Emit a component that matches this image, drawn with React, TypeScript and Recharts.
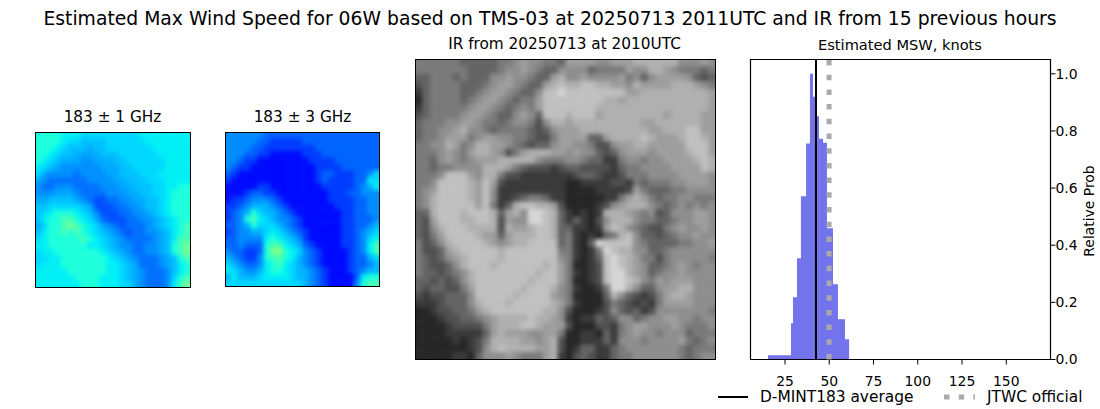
import { Area, ComposedChart, ReferenceArea, ReferenceLine, Scatter, ScatterChart, XAxis, YAxis } from "recharts";

// histogram of estimated MSW: bin edges (knots) and relative prob of the bin starting at each edge
const binEdges = [15.4, 28.4, 29.5, 31.8, 34, 36.9, 39.1, 40.8, 42, 44.2, 46.5, 48.7, 52.1, 54.9, 58.9, 61.2];
const binProb = [0.015, 0.127, 0.218, 0.354, 0.571, 0.756, 1.0, 0.92, 0.851, 0.773, 0.759, 0.459, 0.263, 0.141, 0.071, 0];
const xTicks = [25, 50, 75, 100, 125, 150];
const yTicks = [0, 0.2, 0.4, 0.6, 0.8, 1.0];
const dmintAverage = 42.5;
const jtwcOfficial = 49.9;

const mainTitle = "Estimated Max Wind Speed for 06W based on TMS-03 at 20250713 2011UTC and IR from 15 previous hours";

// brightness levels, one digit per cell
const mw1Grid = [
  "777766655555555566666666",
  "777765544445555556666666",
  "777654443445555555666666",
  "776544333344455555566666",
  "765433322333445555556666",
  "654322222233344555556666",
  "532222122223344455566666",
  "321111112222334445556666",
  "211222111122233444556677",
  "222333211112223344556777",
  "334444321001122334456777",
  "445555543000112234456777",
  "456777654200011223456777",
  "467788765310001122345677",
  "357789876532101112345678",
  "467787876543210112234678",
  "567777787654321111234688",
  "667777776654322112234789",
  "566777777765432112234789",
  "556677777776543211123478",
  "566677777776654311123467",
  "666667777776654321112467",
  "666666777766654321112578",
  "666666677766655321112689",
];

const mw3Grid = [
  "333333222222222222222222",
  "333332211111222222222222",
  "333322111111112222222222",
  "333221100000111222222222",
  "332110000000011112222222",
  "321100000000001111222222",
  "210000000000001221112235",
  "100000000000001211112265",
  "000001100000000111112346",
  "000122110000000011122333",
  "011233321000000011112233",
  "112344432100000001112233",
  "123475443210000000112233",
  "123786543321000000112223",
  "223475554321000000112234",
  "123344565432100000112345",
  "223333676543100000112356",
  "223222788654210000112368",
  "322112799765321000012368",
  "432113788764321000012245",
  "543223678654321000012234",
  "654334677654432100012344",
  "464445666654432100002677",
  "555555555555432100003788",
];

const irGrid = [
  "4444443333344565544366665566677777755565",
  "4444444333345565433555534444655776544434",
  "3344434333556554336755655556453566665323",
  "2344443334566543367877887766576666777654",
  "1344443345665433588988888888667777777776",
  "0344443456654344688888888776777777777776",
  "1344444566543454688888887777777777777776",
  "2344445665433565388878886777777776777766",
  "3444556654434554257767777777776677777766",
  "3445567554344443235666777777777667778866",
  "3445666456655443224666633677778766678876",
  "4455764577665432335665542256677666668886",
  "4445654677652467776656553235666566667886",
  "4435654566677777544455433114554556666787",
  "4434455557776432221233222213445555666687",
  "4445888657742211111112332112444555566665",
  "4458888768621111111100111122143444556665",
  "4568888768511111111100001111264333445555",
  "4578888768511234431100000114676434455444",
  "4578888868413788776200001256777543454545",
  "3378887888736759987310101777654523555665",
  "3268887788726559987313102577754433455665",
  "3257888777727667887331101687543224565565",
  "3246888876636777887341010347853323455655",
  "4235788887656778888341039888854333344556",
  "4223678888878888888441014987755334555555",
  "4323567888878888888541013898764424555554",
  "4322357888788888878640012898765334565455",
  "4332345788888888788641012899765345565555",
  "3323235788888887888640012899875465666555",
  "3233224688888878887541001499753356677555",
  "2122333588888788886540000375321246776555",
  "1112333578887888887641000243212146666555",
  "0012233467888888877520001253231255555554",
  "0001223345677778776510113235534556655455",
  "0000122224677788766620002214566555654445",
  "0000111113676665566400110314565545553444",
  "0000010124777766567200111315554555564345",
  "0000000125787777667201331134555555543444",
  "0000011035556544467102321134455555543455",
];

const jetSoftColors = ["#0050ff", "#0070ff", "#0090ff", "#00a8ff", "#00c0ff", "#00d8ff", "#00f0f5", "#1effdc", "#46ffb4", "#78ff96"];
const jetColors = ["#000aff", "#003cff", "#0064ff", "#008cff", "#00b4ff", "#00d7ff", "#00f0f5", "#1effdc", "#46ffb4", "#82ff82"];
const grayColors = ["#262626", "#3a3a3a", "#505050", "#646464", "#7a7a7a", "#8e8e8e", "#9e9e9e", "#b0b0b0", "#c0c0c0", "#d6d6d6"];

const histData = binEdges.map((edge, i) => ({ edge, prob: binProb[i] }));

const PAD = 12;

// one image panel, each cell is a scatter point drawn as a square
const HeatPanel = ({ grid, colors, left, top, size, blur }: any) => {
  const n = grid.length;
  const cell = size / n;
  const data = grid.flatMap((row: string, r: number) =>
    row.split("").map((c, col) => ({ x: col + 0.5, y: r + 0.5, col, r, level: Number(c) }))
  );
  const renderCell = (props: any) => {
    const { cx, cy, payload } = props;
    const x0 = cx - cell / 2 - (payload.col === 0 ? PAD : 0.3);
    const x1 = cx + cell / 2 + (payload.col === n - 1 ? PAD : 0.3);
    const y0 = cy - cell / 2 - (payload.r === 0 ? PAD : 0.3);
    const y1 = cy + cell / 2 + (payload.r === n - 1 ? PAD : 0.3);
    return <rect x={x0} y={y0} width={x1 - x0} height={y1 - y0} fill={colors[payload.level]} />;
  };
  return (
    <div style={{ position: "absolute", left, top, width: size, height: size, overflow: "hidden" }}>
      <div style={{ position: "absolute", left: -PAD, top: -PAD, filter: `blur(${blur}px)` }}>
        <ScatterChart width={size + 2 * PAD} height={size + 2 * PAD} margin={{ top: PAD, right: PAD, bottom: PAD, left: PAD }}>
          <XAxis type="number" dataKey="x" domain={[0, n]} hide />
          <YAxis type="number" dataKey="y" domain={[0, n]} reversed hide />
          <Scatter data={data} shape={renderCell} isAnimationActive={false} />
        </ScatterChart>
      </div>
      <div style={{ position: "absolute", left: 0, top: 0, width: size, height: size, boxSizing: "border-box", border: "1.2px solid #000" }} />
    </div>
  );
};

const Title = ({ text, cx, top, fontSize }: any) => (
  <div style={{ position: "absolute", left: cx - 400, width: 800, top, textAlign: "center", fontSize, lineHeight: `${fontSize + 4}px`, color: "#000", whiteSpace: "nowrap" }}>
    {text}
  </div>
);

const yLabel = ({ viewBox }: any) => {
  const x = viewBox.x + 38.5;
  const y = viewBox.y + viewBox.height / 2 + 1.5;
  return (
    <text x={x} y={y} transform={`rotate(-90, ${x}, ${y})`} textAnchor="middle" dominantBaseline="central" fontSize={13.9} fill="#000">
      Relative Prob
    </text>
  );
};

const App = () => {
  return (
    <div style={{ position: "absolute", left: 0, top: 0, width: 1100, height: 409, background: "#fff", fontFamily: "'DejaVu Sans'", overflow: "hidden" }}>
      <div style={{ position: "absolute", left: 0, width: 1100, top: 8, textAlign: "center", fontSize: 18.78, lineHeight: "22px", whiteSpace: "nowrap" }}>{mainTitle}</div>
      <Title text="183 ± 1 GHz" cx={112.5} top={108} fontSize={15.3} />
      <Title text="183 ± 3 GHz" cx={302.5} top={108} fontSize={15.3} />
      <Title text="IR from 20250713 at 2010UTC" cx={564.5} top={35} fontSize={15.3} />
      <Title text="Estimated MSW, knots" cx={900} top={36} fontSize={14.6} />

      <HeatPanel grid={mw1Grid} colors={jetSoftColors} left={35} top={132} size={156} blur={2.2} />
      <HeatPanel grid={mw3Grid} colors={jetColors} left={225} top={132} size={155} blur={2.2} />
      <HeatPanel grid={irGrid} colors={grayColors} left={415} top={59} size={301} blur={2.2} />

      <div style={{ position: "absolute", left: 700, top: 40 }}>
        <ComposedChart width={400} height={369} data={histData} margin={{ top: 19.5, right: 0, bottom: 19.5, left: 50.5 }}>
          <XAxis
            type="number"
            dataKey="edge"
            domain={[5.5, 175]}
            ticks={xTicks}
            interval={0}
            height={30}
            tickSize={5}
            tickMargin={12}
            axisLine={false}
            tick={{ fill: "#000", fontSize: 13.9 }}
            tickLine={{ stroke: "#000" }}
          />
          <YAxis
            orientation="right"
            type="number"
            domain={[0, 1.05]}
            ticks={yTicks}
            interval={0}
            width={49.5}
            tickSize={5}
            tickMargin={0}
            axisLine={false}
            tickFormatter={(v: number) => v.toFixed(1)}
            tick={{ fill: "#000", fontSize: 13.9 }}
            tickLine={{ stroke: "#000" }}
            label={{ content: yLabel }}
          />
          <Area type="stepAfter" dataKey="prob" stroke="none" fill="#7373eb" fillOpacity={1} dot={false} activeDot={false} isAnimationActive={false} />
          <ReferenceLine x={dmintAverage} stroke="#000" strokeWidth={2} />
          <ReferenceLine x={jtwcOfficial} stroke="#aaa" strokeWidth={5} strokeDasharray="5.5 9.2" />
          <ReferenceArea x1={5.5} x2={175} y1={0} y2={1.05} fill="none" stroke="#000" strokeWidth={1.2} ifOverflow="visible" />
        </ComposedChart>
      </div>

      {/* legend under the histogram */}
      <svg style={{ position: "absolute", left: 700, top: 385 }} width={400} height={24}>
        <line x1={18} x2={48} y1={12} y2={12} stroke="#000" strokeWidth={2} />
        <text x={60} y={17} fontSize={15.4} fill="#000">D-MINT183 average</text>
        <line x1={244} x2={275} y1={12} y2={12} stroke="#aaa" strokeWidth={5} strokeDasharray="5.5 9.2" />
        <text x={287} y={17} fontSize={15.4} fill="#000">JTWC official</text>
      </svg>
    </div>
  );
};

export default App;
